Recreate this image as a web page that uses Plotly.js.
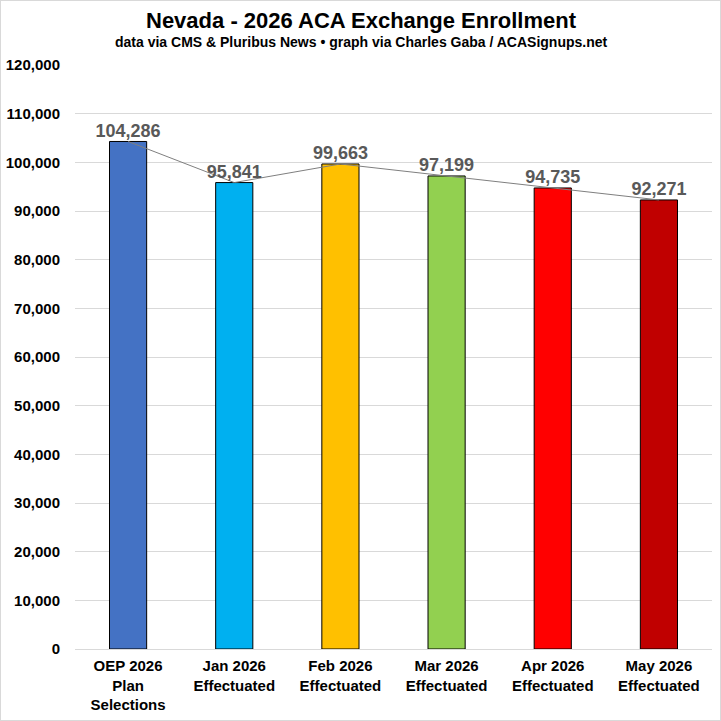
<!DOCTYPE html>
<html>
  <head>
    <meta charset="utf-8" />
    <title>Nevada - 2026 ACA Exchange Enrollment</title>
    <script src="https://cdn.plot.ly/plotly-3.0.1.min.js"></script>
    <style>
      body {
        margin: 0;
        padding: 0;
        background-color: white;
      }
      #graphDiv {
        width: 721px;
        height: 721px;
        box-sizing: border-box;
        border: 1px solid #d9d9d9;
      }
    </style>
  </head>
  <body>
    <div id="graphDiv"></div>
    <script>
      const categories = [
        "OEP 2026<br>Plan<br>Selections",
        "Jan 2026<br>Effectuated",
        "Feb 2026<br>Effectuated",
        "Mar 2026<br>Effectuated",
        "Apr 2026<br>Effectuated",
        "May 2026<br>Effectuated",
      ];
      const enrollment = [104286, 95841, 99663, 97199, 94735, 92271];
      const bar_colors = ["#4472C4", "#00B0F0", "#FFC000", "#92D050", "#FF0000", "#C00000"];
      const y_ticks = [0, 10000, 20000, 30000, 40000, 50000, 60000, 70000, 80000, 90000, 100000, 110000, 120000];

      const font_family = "Liberation Sans, Arial, sans-serif";

      const traces = [
        {
          type: "bar",
          x: categories,
          y: enrollment,
          marker: {
            color: bar_colors,
            line: { color: "black", width: 1 },
          },
          hoverinfo: "x+y",
        },
        {
          type: "scatter",
          mode: "lines+text",
          x: categories,
          y: enrollment,
          line: { color: "#7f7f7f", width: 1 },
          text: enrollment.map((v) => v.toLocaleString("en-US")),
          textposition: "top center",
          textfont: { family: font_family, size: 18, color: "#595959", weight: "bold" },
          hoverinfo: "none",
        },
      ];

      // plot area is 584px tall, top edge 64px below the top of the figure
      const layout = {
        width: 719,
        height: 719,
        showlegend: false,
        plot_bgcolor: "white",
        paper_bgcolor: "white",
        bargap: 0.65,
        margin: { l: 74, r: 8, t: 64, b: 71 },
        annotations: [
          {
            text: "<b>Nevada - 2026 ACA Exchange Enrollment</b>",
            xref: "paper",
            yref: "paper",
            x: 0.449,
            y: 1.077,
            yanchor: "middle",
            showarrow: false,
            font: { family: font_family, size: 22, color: "black" },
          },
          {
            text: "<b>data via CMS & Pluribus News • graph via Charles Gaba / ACASignups.net</b>",
            xref: "paper",
            yref: "paper",
            x: 0.449,
            y: 1.039,
            yanchor: "middle",
            showarrow: false,
            font: { family: font_family, size: 14, color: "black" },
          },
        ],
        xaxis: {
          type: "category",
          showgrid: false,
          zeroline: false,
          showline: false,
          ticks: "",
          ticklabelstandoff: 6,
          tickfont: { family: font_family, size: 15, color: "black", weight: "bold" },
        },
        yaxis: {
          range: [0, 120000],
          tickvals: y_ticks,
          tickformat: ",",
          showgrid: true,
          gridcolor: "#d9d9d9",
          zeroline: true,
          zerolinecolor: "#d9d9d9",
          showline: false,
          ticks: "",
          ticklabelstandoff: 14,
          tickfont: { family: font_family, size: 15, color: "black", weight: "bold" },
        },
      };

      Plotly.newPlot("graphDiv", traces, layout, { displayModeBar: false });
    </script>
  </body>
</html>
